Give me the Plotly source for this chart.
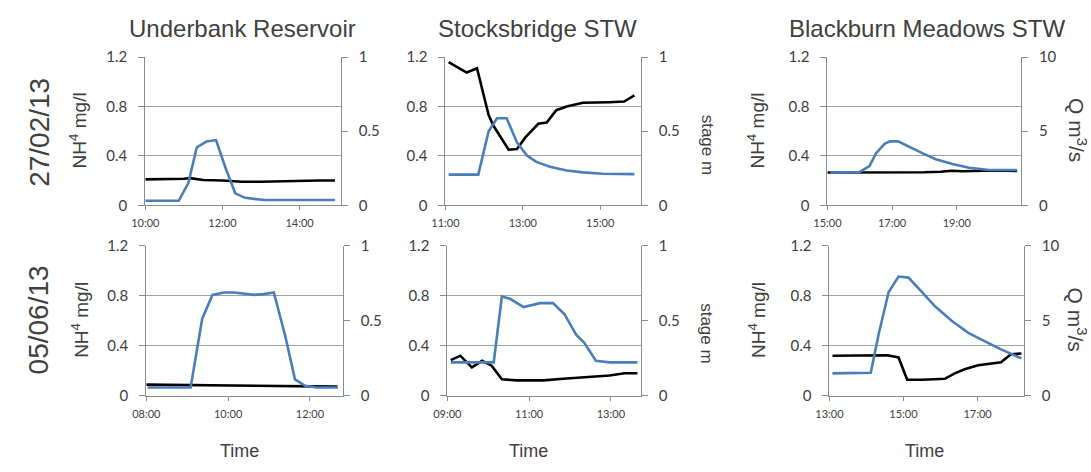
import plotly.graph_objects as go

W, H = 1091, 472

# ---- Underbank Reservoir ----
ub1_t_nh = ["10:00", "10:30", "11:00", "11:10", "11:30", "12:00", "12:15", "12:30", "13:00", "13:30", "14:00", "14:30", "14:55"]
ub1_nh = [0.21, 0.21, 0.215, 0.22, 0.205, 0.20, 0.195, 0.19, 0.19, 0.195, 0.20, 0.20, 0.20]
ub1_t_q = ["10:00", "10:15", "10:30", "10:52", "11:07", "11:20", "11:35", "11:50", "12:05", "12:20", "12:35", "12:50", "13:05", "13:30", "14:00", "14:30", "14:55"]
ub1_q = [0.03, 0.03, 0.03, 0.03, 0.15, 0.39, 0.43, 0.44, 0.25, 0.08, 0.05, 0.04, 0.035, 0.035, 0.035, 0.035, 0.035]

ub2_t_nh = ["08:00", "09:00", "10:00", "11:00", "12:00", "12:40"]
ub2_nh = [0.089, 0.086, 0.082, 0.079, 0.075, 0.073]
ub2_t_q = ["08:02", "08:30", "09:05", "09:22", "09:37", "09:54", "10:09", "10:38", "10:52", "11:07", "11:24", "11:38", "11:53", "12:10", "12:41"]
ub2_q = [0.055, 0.055, 0.055, 0.513, 0.672, 0.688, 0.688, 0.672, 0.677, 0.688, 0.393, 0.109, 0.066, 0.055, 0.055]

# ---- Stocksbridge STW ----
sb1_t_nh = ["11:05", "11:33", "11:49", "12:07", "12:15", "12:38", "12:51", "13:04", "13:24", "13:37", "13:52", "14:08", "14:33", "14:54", "15:14", "15:37", "15:53"]
sb1_nh = [1.16, 1.075, 1.11, 0.73, 0.64, 0.45, 0.455, 0.55, 0.66, 0.67, 0.77, 0.80, 0.83, 0.83, 0.835, 0.84, 0.89]
sb1_t_q = ["11:05", "11:30", "11:51", "12:07", "12:20", "12:35", "12:51", "13:06", "13:21", "13:42", "14:08", "14:33", "15:04", "15:53"]
sb1_q = [0.207, 0.207, 0.207, 0.50, 0.587, 0.587, 0.424, 0.337, 0.293, 0.26, 0.235, 0.222, 0.213, 0.21]

sb2_t_nh = ["09:05", "09:19", "09:36", "09:51", "10:05", "10:20", "10:42", "11:21", "11:50", "12:19", "12:58", "13:20", "13:39"]
sb2_nh = [0.284, 0.32, 0.227, 0.279, 0.24, 0.131, 0.123, 0.123, 0.136, 0.149, 0.162, 0.18, 0.18]
sb2_t_q = ["09:05", "09:34", "10:08", "10:20", "10:32", "10:52", "11:16", "11:35", "11:52", "12:09", "12:21", "12:38", "12:58", "13:39"]
sb2_q = [0.222, 0.222, 0.222, 0.661, 0.646, 0.591, 0.617, 0.617, 0.543, 0.407, 0.352, 0.233, 0.222, 0.222]

# ---- Blackburn Meadows STW ----
bm1_t_nh = ["15:00", "16:00", "17:00", "18:00", "18:30", "18:50", "19:10", "19:40", "20:10", "20:52"]
bm1_nh = [0.265, 0.265, 0.265, 0.268, 0.272, 0.28, 0.275, 0.28, 0.282, 0.278]
bm1_t_q = ["15:05", "15:30", "16:00", "16:18", "16:30", "16:46", "16:56", "17:11", "17:32", "17:57", "18:21", "18:52", "19:23", "20:00", "20:52"]
bm1_q = [2.21, 2.25, 2.25, 2.64, 3.5, 4.14, 4.31, 4.31, 3.93, 3.5, 3.11, 2.79, 2.53, 2.38, 2.38]

bm2_t_nh = ["13:05", "13:45", "14:34", "14:52", "15:06", "15:30", "16:07", "16:23", "16:39", "17:01", "17:38", "17:54", "18:11"]
bm2_nh = [0.319, 0.319, 0.324, 0.306, 0.128, 0.128, 0.135, 0.179, 0.212, 0.243, 0.268, 0.332, 0.337]
bm2_t_q = ["13:05", "13:40", "14:07", "14:20", "14:36", "14:52", "15:08", "15:30", "15:51", "16:18", "16:45", "17:12", "17:38", "18:11"]
bm2_q = [1.49, 1.5, 1.53, 4.15, 6.91, 7.94, 7.87, 6.91, 5.96, 5.0, 4.19, 3.62, 3.09, 2.49]

site_titles = ["Underbank Reservoir", "Stocksbridge STW", "Blackburn Meadows STW"]
row_dates = ["27/02/13", "05/06/13"]
left_ticks = [0, 0.4, 0.8, 1.2]
left_ticktext = ["0", "0.4", "0.8", "1.2"]
right_ticks_stage = [0, 0.5, 1]
right_ticks_flow = [0, 5, 10]

BLUE = "#4a7ebb"
BLACK = "#000000"
AXIS = "#8c8c8c"
GRID = "#a0a0a0"
TXT = "#404040"

# panels: (date, nh times, nh, q times, q, x range start, x range end, right ticks)
panels = [
    ("2013-02-27", ub1_t_nh, ub1_nh, ub1_t_q, ub1_q, "10:00", "15:04", right_ticks_stage),
    ("2013-02-27", sb1_t_nh, sb1_nh, sb1_t_q, sb1_q, "11:00", "16:03", right_ticks_stage),
    ("2013-02-27", bm1_t_nh, bm1_nh, bm1_t_q, bm1_q, "15:00", "20:59", right_ticks_flow),
    ("2013-06-05", ub2_t_nh, ub2_nh, ub2_t_q, ub2_q, "08:00", "12:48", right_ticks_stage),
    ("2013-06-05", sb2_t_nh, sb2_nh, sb2_t_q, sb2_q, "09:00", "13:44", right_ticks_stage),
    ("2013-06-05", bm2_t_nh, bm2_nh, bm2_t_q, bm2_q, "13:00", "18:15", right_ticks_flow),
]

# plot-area boxes in pixels (x0, x1, y_top, y_bottom)
boxes = [
    (133, 331, 49, 203), (437, 635, 49, 203), (824, 1020, 49, 203),
    (134, 333, 245, 401), (439, 635, 245, 401), (826, 1023, 245, 401),
]

fig = go.Figure()
layout = dict(
    width=W, height=H, margin=dict(l=0, r=0, t=0, b=0),
    paper_bgcolor="white", plot_bgcolor="white", showlegend=False,
    font=dict(family="Lato, Liberation Sans, Arial", color=TXT),
)

for i, (day, tn, nh, tq, q, xs, xe, rticks) in enumerate(panels):
    k = i + 1
    xa = f"x{k}"
    yl = f"y{2 * k - 1}"
    yr = f"y{2 * k}"
    x0, x1, yt, yb = boxes[i]
    fig.add_trace(go.Scatter(x=[f"{day} {t}" for t in tq], y=q, mode="lines",
                             line=dict(color=BLUE, width=2.6), xaxis=xa, yaxis=yr))
    fig.add_trace(go.Scatter(x=[f"{day} {t}" for t in tn], y=nh, mode="lines",
                             line=dict(color=BLACK, width=2.6), xaxis=xa, yaxis=yl))
    layout[f"xaxis{k}"] = dict(
        type="date", domain=[x0 / W, x1 / W], anchor=yl,
        range=[f"{day} {xs}", f"{day} {xe}"], tick0=f"{day} {xs}", dtick=7200000,
        tickformat="%H:%M", showgrid=False, showline=True, linecolor=AXIS, linewidth=1,
        ticks="outside", ticklen=4, tickcolor=AXIS, ticklabelstandoff=4,
        tickfont=dict(size=11, color=TXT, family="Lato"), zeroline=False,
    )
    layout[f"yaxis{2 * k - 1}"] = dict(
        domain=[1 - yb / H, 1 - yt / H], anchor=xa, range=[0, 1.2],
        tickvals=left_ticks, ticktext=left_ticktext, showgrid=True, gridcolor=GRID,
        gridwidth=1, showline=True, linecolor=AXIS, ticks="outside", ticklen=6,
        tickcolor=AXIS, ticklabelstandoff=8, zeroline=False,
        tickfont=dict(size=15, color=TXT, family="Lato"),
    )
    layout[f"yaxis{2 * k}"] = dict(
        overlaying=yl, anchor=xa, side="right", range=[0, rticks[-1]],
        tickvals=rticks, showgrid=False, showline=True, linecolor=AXIS,
        ticks="outside", ticklen=6, tickcolor=AXIS, ticklabelstandoff=8, zeroline=False,
        tickfont=dict(size=15, color=TXT, family="Lato"),
    )

annotations = []
# site titles
for name, cx in zip(site_titles, [231, 530, 925]):
    annotations.append(dict(text=name, x=cx / W, y=1 - 19 / H, xref="paper", yref="paper",
                            showarrow=False, xanchor="center", yanchor="middle",
                            font=dict(size=24, color=TXT, family="Liberation Sans")))
# sampling dates
for d, cy in zip(row_dates, [127, 322]):
    annotations.append(dict(text=d, x=25 / W, y=1 - cy / H, xref="paper", yref="paper",
                            showarrow=False, textangle=-90, xanchor="center", yanchor="middle",
                            font=dict(size=28, color=TXT, family="Liberation Sans")))
# time labels
for cx in [228, 521, 922]:
    annotations.append(dict(text="Time", x=cx / W, y=1 - 458 / H, xref="paper", yref="paper",
                            showarrow=False, xanchor="center", yanchor="middle",
                            font=dict(size=18, color=TXT, family="Liberation Sans Narrow, Liberation Sans")))
# left axis titles
for cx, cy in [(65, 125), (67, 322), (752, 125), (752, 322)]:
    annotations.append(dict(text="NH<sup>4</sup> mg/l", x=cx / W, y=1 - cy / H, xref="paper", yref="paper",
                            showarrow=False, textangle=-90, xanchor="center", yanchor="middle",
                            font=dict(size=19, color=TXT, family="Liberation Sans")))
# right axis titles
for cx, cy in [(702, 140), (702, 336)]:
    annotations.append(dict(text="stage m", x=cx / W, y=1 - cy / H, xref="paper", yref="paper",
                            showarrow=False, textangle=90, xanchor="center", yanchor="middle",
                            font=dict(size=17, color=TXT, family="Liberation Sans")))
for cx, cy in [(1077, 125), (1077, 322)]:
    annotations.append(dict(text="Q m<sup>3</sup>/s", x=cx / W, y=1 - cy / H, xref="paper", yref="paper",
                            showarrow=False, textangle=90, xanchor="center", yanchor="middle",
                            font=dict(size=21, color=TXT, family="Liberation Sans")))

layout["annotations"] = annotations
fig.update_layout(**layout)
fig.write_html("out.html")
